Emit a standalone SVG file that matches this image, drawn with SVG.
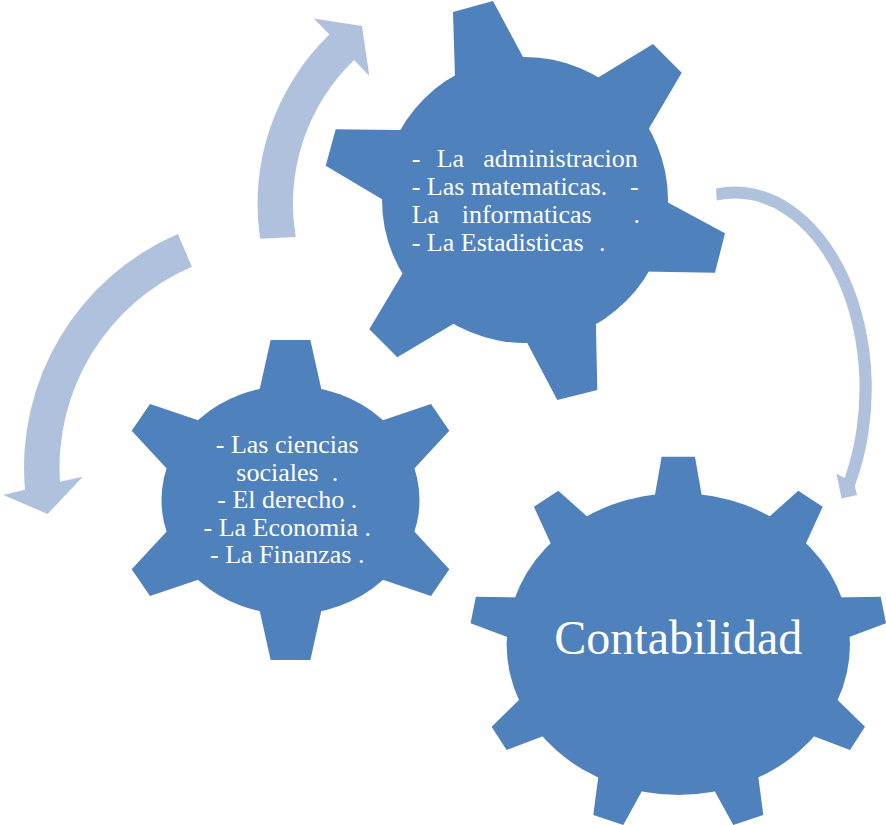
<svg xmlns="http://www.w3.org/2000/svg" width="886" height="825" viewBox="0 0 886 825">
<style>
.gear{fill:#4F81BD}
.arrow{fill:#B0C1DD}
.txt{font-family:"Liberation Serif","Times New Roman",serif;fill:#FFFFFF}
</style>
<rect width="886" height="825" fill="#FFFFFF"/>
<g id="connectors">
<path id="arrow-a" class="arrow" d="M260.1,238.8 A235.5,235.5 0 0 1 329.4,34.6 L313.8,18.4 L362,26 L369.3,76 L354.1,60.1 A200,200 0 0 0 295.7,237 Z"/>
<path id="arrow-b" class="arrow" d="M177.9,234.1 A254,254 0 0 0 25,489.7 L3.3,495 L47.7,514 L82.7,476.7 L60,481.7 A218.5,218.5 0 0 1 191.9,266.8 Z"/>
<path id="arrow-c" class="arrow" d="M716,188.5 A137,202 0 0 1 854.8,486 L857,495 L841.5,498.5 L836.5,473.5 L844.6,478 A124.5,189.5 0 0 0 716.7,200.6 Z"/>
</g>
<g id="gear-tecnicas">
<circle class="gear" cx="525" cy="200" r="143"/>
<polygon class="gear" points="453,12 493,1 541,90.6 456.2,114.4"/>
<polygon class="gear" points="653,44 681.7,72.7 631,159.1 566.6,96.8"/>
<polygon class="gear" points="725,233.3 715,272.7 612.6,271.1 635.9,185.3"/>
<polygon class="gear" points="597.3,390 557.3,400 510.9,312 595.2,288.7"/>
<polygon class="gear" points="397.3,357.3 369.3,329.3 421.1,242.4 484.3,305.6"/>
<polygon class="gear" points="325.7,165.7 335.7,129.3 438.6,130.4 415.3,219"/>
<text class="txt" font-size="26">
<tspan x="411.7" y="167">-</tspan><tspan x="436.7" y="167">La</tspan><tspan x="483.3" y="167">administracion</tspan>
<tspan x="411.7" y="195">- Las matematicas.</tspan><tspan x="630" y="195">-</tspan>
<tspan x="411.7" y="223">La</tspan><tspan x="461.7" y="223">informaticas</tspan><tspan x="633.5" y="223">.</tspan>
<tspan x="411.7" y="251">- La Estadisticas</tspan><tspan x="599" y="251">.</tspan>
</text>
</g>
<g id="gear-ciencias">
<ellipse class="gear" cx="290.5" cy="500" rx="129" ry="114.5"/>
<polygon class="gear" points="270.65,340 310.35,340 324.85,405 256.15,405"/>
<polygon class="gear" points="270.65,660 310.35,660 324.85,595 256.15,595"/>
<polygon class="gear" points="131.7,430.7 150,404 211.5,424.8 175,477.5"/>
<polygon class="gear" points="131.7,569.3 150,596 211.5,575.2 175,522.5"/>
<polygon class="gear" points="449.3,430.7 431,404 369.5,424.8 406,477.5"/>
<polygon class="gear" points="449.3,569.3 431,596 369.5,575.2 406,522.5"/>
<text class="txt" font-size="26" text-anchor="middle" xml:space="preserve">
<tspan x="290.5" y="453">- Las ciencias</tspan>
<tspan x="290.5" y="480.5">sociales  .</tspan>
<tspan x="290.5" y="508">- El derecho .</tspan>
<tspan x="290.5" y="535.5">- La Economia .</tspan>
<tspan x="290.5" y="563">- La Finanzas .</tspan>
</text>
</g>
<g id="gear-contabilidad">
<ellipse class="gear" cx="678.3" cy="644" rx="171.7" ry="151"/>
<polygon class="gear" points="661.65,456.7 694.95,456.7 705.4,516.4 651.2,516.4"/>
<polygon class="gear" points="798.3,490.7 822.7,506.7 797.1,562.7 753,531.2"/>
<polygon class="gear" points="880.7,596.7 886,623.3 828.4,644.7 818.3,597.7"/>
<polygon class="gear" points="865,726.7 850,750 794,728.7 822.3,685.1"/>
<polygon class="gear" points="763.3,815 733.3,825 704,771.7 755.3,753.7"/>
<polygon class="gear" points="593.3,815 623.3,825 652.6,771.7 601.3,753.7"/>
<polygon class="gear" points="491.6,726.7 506.6,750 562.6,728.7 534.3,685.1"/>
<polygon class="gear" points="475.9,596.7 470.6,623.3 528.2,644.7 538.3,597.7"/>
<polygon class="gear" points="558.3,490.7 533.9,506.7 559.5,562.7 603.6,531.2"/>
<text class="txt" font-size="48" text-anchor="middle" x="678.3" y="654">Contabilidad</text>
</g>
</svg>
